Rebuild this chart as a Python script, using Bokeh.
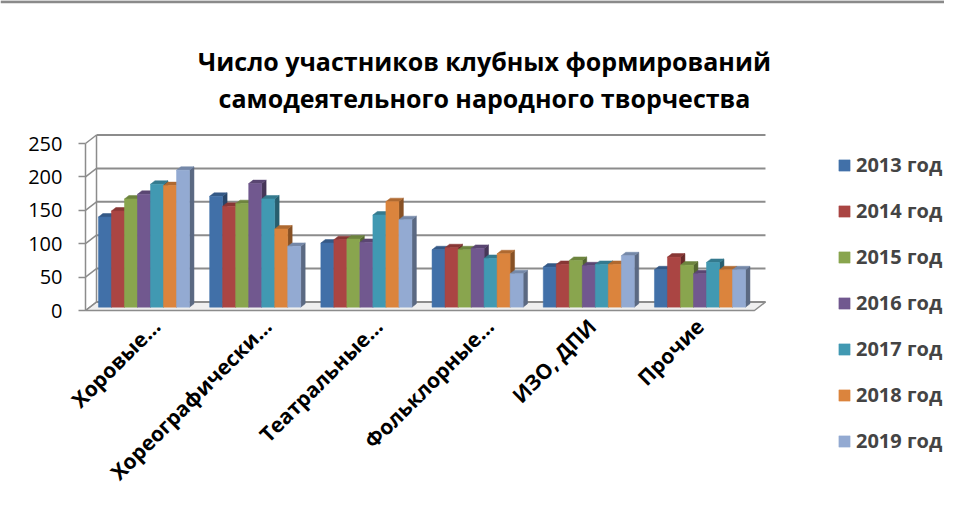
import numpy as np
from bokeh.plotting import figure
from bokeh.models import Range1d, FixedTicker, Legend, LegendItem, Label
from bokeh.embed import file_html
from bokeh.resources import INLINE

# ---------------- data ----------------
categories = ["Хоровые…", "Хореографически…", "Театральные…", "Фольклорные…", "ИЗО, ДПИ", "Прочие"]
years = ["2013 год", "2014 год", "2015 год", "2016 год", "2017 год", "2018 год", "2019 год"]
y2013 = [135, 166, 96, 86, 60, 56]
y2014 = [144, 151, 101, 89, 64, 75]
y2015 = [162, 155, 102, 86, 70, 63]
y2016 = [169, 185, 97, 88, 62, 50]
y2017 = [184, 162, 138, 73, 64, 67]
y2018 = [182, 117, 158, 80, 64, 56]
y2019 = [205, 91, 131, 50, 77, 56]
y_ticks = [0, 50, 100, 150, 200, 250]
title_lines = ["Число участников клубных формирований", "самодеятельного народного творчества"]

series = [y2013, y2014, y2015, y2016, y2017, y2018, y2019]
colors = ["#4170A8", "#AA4543", "#89A54E", "#71588F", "#4199B2", "#DB843D", "#93AAD2"]


def shade(hex_color, f):
    h = hex_color.lstrip("#")
    r, g, b = (int(h[i:i + 2], 16) for i in (0, 2, 4))
    return "#%02x%02x%02x" % (int(r * f), int(g * f), int(b * f))


# ---------------- geometry (style) ----------------
W, H = 944, 494
AXIS_PX = 85                 # pixel x of the front value axis
BASE_PX = 310                # pixel y of value 0
PX_X = 111.2                 # pixels per category
PX_Y = 0.668                 # pixels per unit
X0 = -0.526                  # data x of the front value axis
XS = X0 - AXIS_PX / PX_X
XE = XS + W / PX_X
Y1 = BASE_PX / PX_Y
Y0 = -(H - BASE_PX) / PX_Y
GX1 = 5.589                  # right end of the back wall
DXU, DYU = 0.099, 12.7       # depth of the 3D box (data units)
BW = 0.117                   # bar width
BDX, BDY = 0.04, 5.2         # bar depth
B0 = 5                       # bar base
GRID = "#8C8C8C"
label_offsets = [0.11, 0.11, 0.11, 0.11, 0.03, 0.0]   # label anchor shift per category


def fx(px):  # pixel x -> data x
    return XS + px / PX_X


def fy(py):  # pixel y -> data y
    return (BASE_PX - py) / PX_Y


p = figure(width=W, height=H, x_range=Range1d(XS, XE), y_range=Range1d(Y0, Y1),
           output_backend="svg", toolbar_location=None,
           min_border_left=0, min_border_right=0, min_border_top=0, min_border_bottom=0)
p.grid.visible = False
p.outline_line_color = None
p.background_fill_color = "white"
p.border_fill_color = "white"

# chart-area border at the top edge
p.segment(x0=[XS], y0=[fy(1.2)], x1=[XE], y1=[fy(1.2)], line_color="#8A8A8A", line_width=3)

# floor
p.patch(x=[X0, GX1 - DXU, GX1, X0 + DXU], y=[0, 0, DYU, DYU],
        fill_color="#EFEFEF", line_color=GRID, line_width=1.5)

# back wall gridlines, side-wall diagonals and back-left edge
gy = [v + DYU for v in y_ticks]
n = len(y_ticks)
p.segment(x0=[X0 + DXU] * n, y0=gy, x1=[GX1] * n, y1=gy, line_color=GRID, line_width=2)
p.segment(x0=[X0] * n, y0=y_ticks, x1=[X0 + DXU] * n, y1=gy, line_color=GRID, line_width=1.5)
p.segment(x0=[X0 + DXU], y0=[DYU], x1=[X0 + DXU], y1=[y_ticks[-1] + DYU],
          line_color=GRID, line_width=1.5)

# bars
items = []
idx = np.arange(len(categories))
for j, (vals, col) in enumerate(zip(series, colors)):
    v = np.array(vals, dtype=float)
    left = idx - 3.5 * BW + j * BW
    right = left + BW
    top = B0 + v
    side_xs = [[r, r + BDX, r + BDX, r] for r in right]
    side_ys = [[B0, B0 + BDY, t + BDY, t] for t in top]
    top_xs = [[l, r, r + BDX, l + BDX] for l, r in zip(left, right)]
    top_ys = [[t, t, t + BDY, t + BDY] for t in top]
    p.patches(xs=side_xs, ys=side_ys, fill_color=shade(col, 0.62), line_color=shade(col, 0.62), line_width=0.5)
    p.patches(xs=top_xs, ys=top_ys, fill_color=shade(col, 0.8), line_color=shade(col, 0.8), line_width=0.5)
    r = p.vbar(x=(left + right) / 2, width=BW, bottom=B0, top=top,
               fill_color=col, line_color=col, line_width=0.5)
    items.append(LegendItem(label=years[j], renderers=[r]))

# value axis, fixed at the front-left edge of the box
p.yaxis.fixed_location = X0
p.yaxis.ticker = FixedTicker(ticks=y_ticks)
p.yaxis.bounds = (y_ticks[0], y_ticks[-1])
p.yaxis.axis_line_color = GRID
p.yaxis.axis_line_width = 1.5
p.yaxis.major_tick_line_color = GRID
p.yaxis.major_tick_line_width = 1.5
p.yaxis.major_tick_out = 7
p.yaxis.major_tick_in = 0
p.yaxis.minor_tick_line_color = None
p.yaxis.major_label_standoff = 16
p.yaxis.major_label_text_font = "Open Sans"
p.yaxis.major_label_text_font_size = "20px"
p.yaxis.major_label_text_color = "black"

# category axis, fixed at value 0
tick_pos = [i + off for i, off in enumerate(label_offsets)]
p.xaxis.fixed_location = 0
p.xaxis.ticker = FixedTicker(ticks=tick_pos)
p.xaxis.major_label_overrides = {t: c for t, c in zip(tick_pos, categories)}
p.xaxis.major_label_orientation = np.pi / 4
p.xaxis.axis_line_color = None
p.xaxis.major_tick_line_color = None
p.xaxis.minor_tick_line_color = None
p.xaxis.major_label_standoff = 6
p.xaxis.major_label_text_font = "Open Sans"
p.xaxis.major_label_text_font_style = "bold"
p.xaxis.major_label_text_font_size = "21px"
p.xaxis.major_label_text_color = "black"

# legend
legend = Legend(items=items, location=(837, 40), orientation="vertical",
                glyph_width=14, glyph_height=14, label_height=27, spacing=19,
                padding=0, margin=0, border_line_color=None, background_fill_alpha=0,
                label_text_font="Open Sans", label_text_font_style="bold",
                label_text_font_size="20px", label_standoff=5)
p.add_layout(legend)

# title
for txt, py in zip(title_lines, [60, 97]):
    p.add_layout(Label(x=fx(484), y=fy(py), text=txt,
                       text_align="center", text_baseline="middle",
                       text_font="Open Sans", text_font_style="bold", text_font_size="25px",
                       text_color="black"))

open("out.html", "w").write(file_html(p, INLINE))
